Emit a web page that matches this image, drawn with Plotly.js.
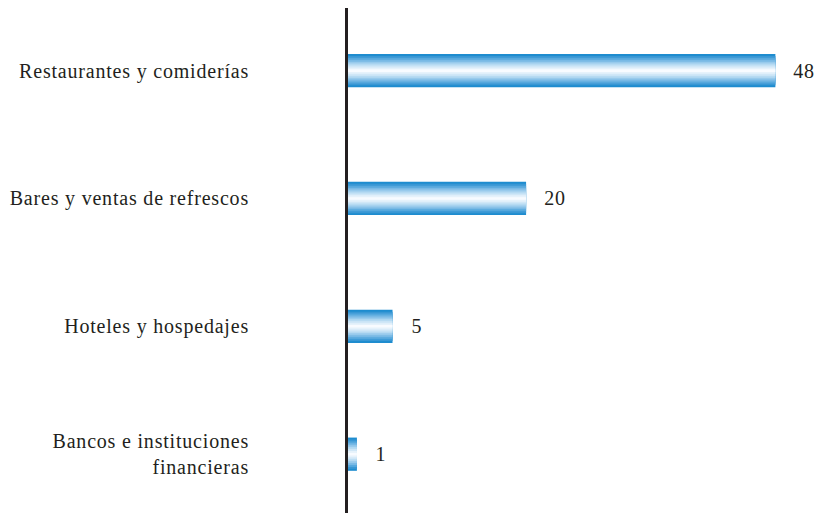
<!DOCTYPE html>
<html><head><meta charset="utf-8">
<script src="https://cdn.plot.ly/plotly-3.0.1.min.js"></script>
<style>html,body{margin:0;padding:0;background:#fff}#chart{width:819px;height:513px}#chart svg text{letter-spacing:0.8px}</style>
</head><body><div id="chart"></div>
<script>
const categories = ["Restaurantes y comiderías", "Bares y ventas de refrescos", "Hoteles y hospedajes", "Bancos e instituciones<br>financieras"];
const values = [48, 20, 5, 1];

const layerWidths = [0.26, 0.23, 0.2, 0.17, 0.14, 0.11, 0.08, 0.05, 0.02];
const layerColors = ["#1e8ccf", "#3897d4", "#56a8dd", "#78b9e5", "#98caec", "#b6daf2", "#d0e7f7", "#e6f2fb", "#f8fbff"];

const FONT = "Liberation Serif";

const traces = layerWidths.map((w, i) => ({
  type: "bar", orientation: "h",
  x: values, y: categories,
  width: categories.map(() => w),
  marker: {color: layerColors[i], line: {width: 0}},
  hoverinfo: "skip", showlegend: false
}));

const annotations = values.map((v, i) => ({
  x: v, y: categories[i], xref: "x", yref: "y",
  text: String(v), showarrow: false, xanchor: "left", xshift: 17,
  font: {family: FONT, size: 20, color: "#231f20"}
}));

const layout = {
  width: 819, height: 513,
  margin: {l: 348, r: 8, t: 8, b: 0},
  paper_bgcolor: "#fff", plot_bgcolor: "#fff",
  barmode: "overlay",
  font: {family: FONT, size: 20, color: "#231f20"},
  xaxis: {range: [0, 52], showgrid: false, zeroline: false, showticklabels: false, ticks: "", showline: false, fixedrange: true},
  yaxis: {type: "category", categoryorder: "array", categoryarray: categories,
    range: [3.46, -0.49], showgrid: false, zeroline: false, ticks: "",
    showline: true, linecolor: "#231f20", linewidth: 3, ticklabelstandoff: 92,
    tickfont: {family: FONT, size: 20, color: "#231f20"}},
  annotations: annotations
};
Plotly.newPlot("chart", traces, layout, {displayModeBar: false, staticPlot: true});
</script></body></html>
